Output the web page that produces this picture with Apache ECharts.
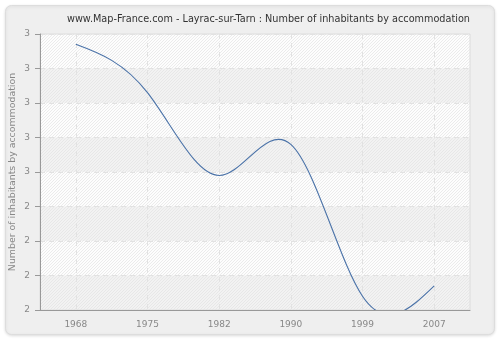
<!DOCTYPE html>
<html><head><meta charset="utf-8">
<script src="https://cdn.jsdelivr.net/npm/echarts@6/dist/echarts.min.js"></script>
<style>html,body{margin:0;padding:0;background:#fff}#c{width:500px;height:340px}</style>
</head><body><div id="c"></div>
<script>
var titleText = 'www.Map-France.com - Layrac-sur-Tarn : Number of inhabitants by accommodation';
var yAxisName = 'Number of inhabitants by accommodation';
var years = ['1968', '1975', '1982', '1990', '1999', '2007'];
var values = [2.87, 2.73, 2.49, 2.58, 2.14, 2.17];
var yMin = 2.1, yMax = 2.9, yStep = 0.1;

function hatch() {
  var c = document.createElement('canvas');
  c.width = 6; c.height = 6;
  var g = c.getContext('2d');
  g.fillStyle = '#fdfdfd'; g.fillRect(0, 0, 6, 6);
  g.strokeStyle = '#ebebeb'; g.lineWidth = 1;
  for (var k = -6; k <= 12; k += 3) {
    g.beginPath(); g.moveTo(k, 6); g.lineTo(k + 6, 0); g.stroke();
  }
  return c;
}

// natural cubic spline through pixel points, returned as SVG path data
function splinePath(p) {
  var n = p.length, M = new Array(n).fill(0);
  if (n > 2) {
    var h = [], a = [], b = [], c = [], d = [];
    for (var i = 0; i < n - 1; i++) h.push(p[i + 1][0] - p[i][0]);
    for (var i = 1; i < n - 1; i++) {
      a.push(h[i - 1]); b.push(2 * (h[i - 1] + h[i])); c.push(h[i]);
      d.push(6 * ((p[i + 1][1] - p[i][1]) / h[i] - (p[i][1] - p[i - 1][1]) / h[i - 1]));
    }
    var m = b.length;
    for (var i = 1; i < m; i++) {
      var w = a[i] / b[i - 1];
      b[i] -= w * c[i - 1]; d[i] -= w * d[i - 1];
    }
    var s = new Array(m);
    s[m - 1] = d[m - 1] / b[m - 1];
    for (var i = m - 2; i >= 0; i--) s[i] = (d[i] - c[i] * s[i + 1]) / b[i];
    for (var i = 0; i < m; i++) M[i + 1] = s[i];
  }
  var out = 'M' + p[0][0] + ' ' + p[0][1];
  for (var i = 0; i < n - 1; i++) {
    var x0 = p[i][0], y0 = p[i][1], x1 = p[i + 1][0], y1 = p[i + 1][1], hh = x1 - x0;
    var d0 = (y1 - y0) / hh - hh * (2 * M[i] + M[i + 1]) / 6;
    var d1 = (y1 - y0) / hh + hh * (M[i] + 2 * M[i + 1]) / 6;
    out += ' C' + (x0 + hh / 3) + ' ' + (y0 + d0 * hh / 3) + ' ' +
      (x1 - hh / 3) + ' ' + (y1 - d1 * hh / 3) + ' ' + x1 + ' ' + y1;
  }
  return out;
}

var chart = echarts.init(document.getElementById('c'), null, {renderer: 'canvas'});
chart.setOption({
  animation: false,
  backgroundColor: '#ffffff',
  graphic: [{
    type: 'rect', z: -10, shape: {x: 5.5, y: 5.5, width: 489, height: 329, r: 6},
    style: {fill: '#efefef', stroke: '#dddddd', lineWidth: 1, shadowBlur: 3, shadowColor: 'rgba(0,0,0,0.12)', shadowOffsetY: 1}
  }],
  title: {
    text: titleText, left: 62, top: 9,
    textStyle: {fontFamily: 'DejaVu Sans', fontSize: 9.7, fontWeight: 'normal', color: '#333'}
  },
  grid: {
    left: 40, right: 30, top: 34, bottom: 30, show: true,
    containLabel: false, outerBoundsMode: 'none',
    backgroundColor: {image: hatch(), repeat: 'repeat'},
    borderColor: '#dcdcdc', borderWidth: 1
  },
  xAxis: {
    type: 'category', data: years, boundaryGap: true,
    axisLine: {lineStyle: {color: '#999', width: 1}},
    axisTick: {alignWithLabel: true, length: 5, lineStyle: {color: '#999'}},
    axisLabel: {color: '#888', fontFamily: 'DejaVu Sans', fontSize: 9, margin: 10},
    splitLine: {show: true, alignWithLabel: true, lineStyle: {color: '#e2e2e2', type: [5, 4]}}
  },
  yAxis: {
    type: 'value', min: yMin, max: yMax, interval: yStep,
    name: yAxisName, nameLocation: 'middle', nameGap: 23, nameRotate: 90, nameMoveOverlap: false,
    nameTextStyle: {color: '#888', fontFamily: 'DejaVu Sans', fontSize: 9.4},
    axisLine: {show: true, lineStyle: {color: '#999', width: 1}},
    axisTick: {show: true, length: 5, lineStyle: {color: '#999'}},
    axisLabel: {color: '#888', fontFamily: 'DejaVu Sans', fontSize: 9, margin: 10,
      formatter: function (v) { return String(Math.round(v + 1e-9)); }},
    splitLine: {show: true, lineStyle: {color: '#e2e2e2', type: [5, 4]}},
    splitArea: {show: true, areaStyle: {color: ['rgba(225,225,225,0.4)', 'rgba(255,255,255,0)']}}
  },
  series: [{
    type: 'custom',
    data: values.map(function (v, i) { return [i, v]; }),
    encode: {x: 0, y: 1},
    renderItem: function (params, api) {
      if (params.dataIndexInside !== 0) return null;
      var pts = values.map(function (v, i) { return api.coord([i, v]); });
      var cs = params.coordSys;
      return {
        type: 'path',
        shape: {pathData: splinePath(pts)},
        style: {fill: null, stroke: '#4a72a8', lineWidth: 1.1},
        clipPath: {type: 'rect', shape: {x: cs.x, y: cs.y, width: cs.width, height: cs.height}}
      };
    }
  }]
});
</script></body></html>
